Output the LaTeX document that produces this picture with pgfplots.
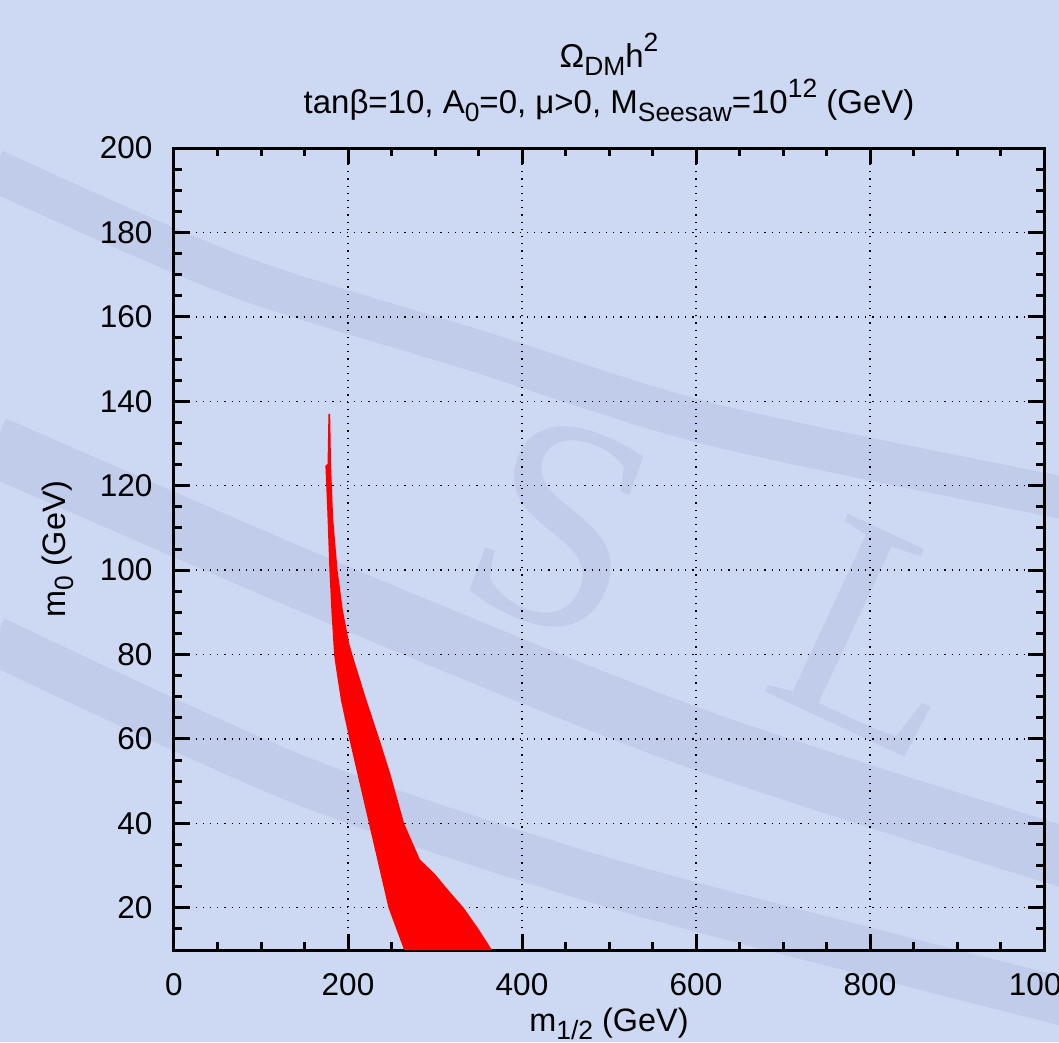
\documentclass[border=0pt]{standalone}
\usepackage{fontspec}
\setmainfont{Liberation Sans}
\newfontfamily\wmfont{Liberation Serif}
\usepackage{pgfplots}
\pgfplotsset{compat=1.18}
\usepackage{xcolor}
\definecolor{bg}{RGB}{205,216,243}
\definecolor{wm}{RGB}{192,204,234}
\newcommand\lo[1]{\raisebox{-0.45ex}{\fontsize{8.8}{8.8}\selectfont #1}}
\newcommand\hi[1]{\raisebox{0.95ex}{\fontsize{8.8}{8.8}\selectfont #1}}

% region where Omega_DM h^2 is in the allowed band
\pgfplotstableread{
x      y
177.5  137.0
179.5  137.0
180.5  125.0
183.0  112.0
188.0  100.0
194.0   90.6
201.5   82.5
205.0   80.0
220.0   70.0
236.0   60.0
249.0   51.5
264.5   40.0
282.5   31.5
300.0   28.0
314.0   24.5
333.0   20.0
350.0   15.0
365.5   10.0
264.5   10.0
246.5   20.0
224.0   40.0
201.5   60.0
192.0   69.0
186.0   77.0
184.0   80.0
181.0   90.0
178.6  100.0
176.0  115.0
174.0  124.7
176.5  125.2
}\relicdata

\begin{document}
\fontsize{10.5}{12}\selectfont
\begin{tikzpicture}
% background and faint watermark
\path[use as bounding box, fill=bg] (-58pt,-30.67pt) rectangle (295pt,316.67pt);
\begin{scope}
\clip (-58pt,-30.67pt) rectangle (295pt,316.67pt);
\draw[wm, line width=20pt] plot[smooth] coordinates {(-60pt,168pt) (58.7pt,116.7pt) (175.3pt,70pt) (300pt,30pt)};
\draw[wm, line width=16pt] plot[smooth] coordinates {(-60pt,103.3pt) (42pt,56.7pt) (142pt,23.3pt) (242pt,-3.3pt) (300pt,-18pt)};
\draw[wm, line width=14pt] plot[smooth] coordinates {(-60pt,260pt) (20pt,225pt) (100pt,200pt) (180pt,175pt) (300pt,150pt)};
\node[wm, inner sep=0pt, rotate=-20, font=\wmfont\fontsize{100}{100}\selectfont] at (128.7pt,141pt) {S};
\node[wm, inner sep=0pt, rotate=-25, font=\wmfont\fontsize{100}{100}\selectfont] at (236pt,104pt) {L};
\end{scope}
\begin{axis}[
    name=ax,
    at={(0,0)}, anchor=south west,
    scale only axis,
    width=290pt, height=267.33pt,
    xmin=0, xmax=1000,
    ymin=10, ymax=200,
    xtick={0,200,...,1000},
    ytick={20,40,...,200},
    minor xtick={0,50,...,1000},
    minor ytick={10,15,...,200},
    xmajorgrids=true, ymajorgrids=true,
    grid style={black, dotted, line width=0.45pt},
    axis line style={black, line width=1pt},
    major tick length=5.3pt,
    minor tick length=2.7pt,
    tick style={black, line width=1pt},
    tick align=inside,
    xtick pos=both, ytick pos=both,
    /pgf/number format/assume math mode=true,
    /pgf/number format/1000 sep={},
    tick label style={font=\fontsize{10.5}{12}\selectfont},
    xticklabel style={yshift=-4pt},
    yticklabel style={xshift=-3.5pt},
    xlabel={m\lo{1/2} (GeV)},
    ylabel={m\lo{0} (GeV)},
    label style={font=\fontsize{10.8}{12}\selectfont},
    xlabel style={yshift=3pt},
    ylabel style={yshift=1.5pt},
    title={Ω\lo{DM}h\hi{2}\\tanβ=10, A\lo{0}=0, μ>0, M\lo{Seesaw}=10\hi{12} (GeV)},
    title style={align=center, font=\fontsize{11}{14}\selectfont, yshift=-1pt},
    axis background/.style={fill=none},
]
\addplot[fill=red, draw=none] table[x=x, y=y] {\relicdata} -- cycle;
\end{axis}
\end{tikzpicture}
\end{document}
